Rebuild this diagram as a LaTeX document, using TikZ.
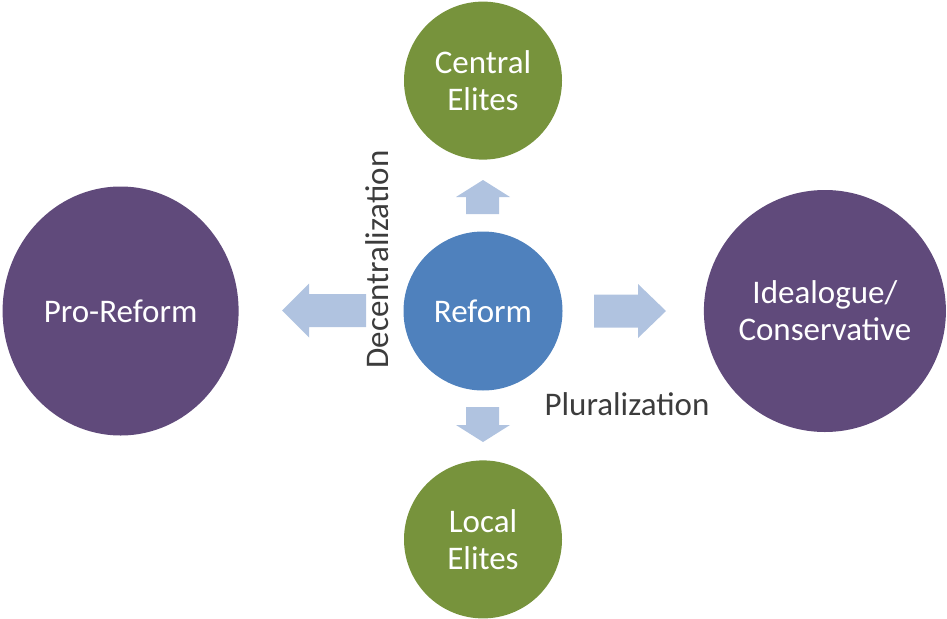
\documentclass[tikz,border=0pt]{standalone}
\usepackage{fontspec}
\setmainfont{Carlito}
\usetikzlibrary{positioning}
\usetikzlibrary{shapes.geometric}

\definecolor{reformblue}{HTML}{4F81BD}
\definecolor{elitegreen}{HTML}{77933C}
\definecolor{factionpurple}{HTML}{604A7B}
\definecolor{pushblue}{HTML}{B0C3E0}
\definecolor{trendgray}{HTML}{3C3C3C}

\begin{document}
\begin{tikzpicture}[x=1pt, y=-1pt,
    every node/.style={text=white, font=\fontsize{33}{37}\selectfont, align=center, inner sep=0pt},
    ball/.style={circle, fill=#1},
    push/.style={fill=pushblue},
    trend/.style={text=trendgray}]
    \useasboundingbox (0,0) rectangle (947,618);

    % circles
    \node[ball=reformblue, minimum size=159pt] (reform) at (483,311) {Reform};
    \node[ball=elitegreen, minimum size=158pt, above=71.5pt of reform] (central) {Central\\Elites};
    \node[ball=elitegreen, minimum size=158pt, below=69.5pt of reform] (local) {Local\\Elites};
    \node[ellipse, fill=factionpurple, minimum width=236pt, minimum height=249pt, left=164.5pt of reform] (proreform) {Pro-Reform};
    \node[ball=factionpurple, minimum size=242pt, right=141pt of reform] (conservative) {Idealogue/\\Conservative};

    % block arrows
    \fill[push] (466,214) -- (466,197) -- (456,197) -- (483,180) -- (510,197) -- (499,197) -- (499,214) -- cycle;
    \fill[push] (466,407) -- (466,425) -- (456,425) -- (483,442) -- (510,425) -- (499,425) -- (499,407) -- cycle;
    \fill[push] (366,294) -- (309,294) -- (309,283.5) -- (282,310.5) -- (309,337.5) -- (309,327) -- (366,327) -- cycle;
    \fill[push] (594,294.5) -- (638,294.5) -- (638,284) -- (666,311) -- (638,338) -- (638,327.5) -- (594,327.5) -- cycle;

    \node[trend, rotate=90] (decentral) at (377,259.5) {Decentralization};
    \node[trend] (plural) at (627,404.5) {Pluralization};
\end{tikzpicture}
\end{document}
